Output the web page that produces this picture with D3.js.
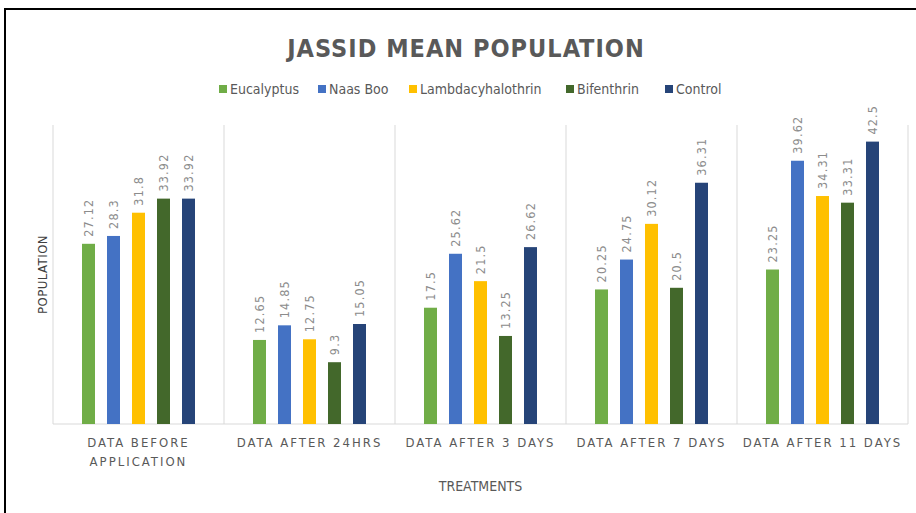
<!DOCTYPE html>
<html>
<head>
<meta charset="utf-8">
<script src="https://cdn.jsdelivr.net/npm/d3@7"></script>
<style>
  body { margin: 0; background: #fff; }
  text { font-family: "Liberation Sans Narrow", "DejaVu Sans Condensed", "Liberation Sans", sans-serif; }
</style>
</head>
<body>
<svg id="chart" width="916" height="513"></svg>
<script>
// data
var treatments = ['DATA BEFORE APPLICATION', 'DATA AFTER 24HRS', 'DATA AFTER 3 DAYS', 'DATA AFTER 7 DAYS', 'DATA AFTER 11 DAYS'];
var tickLines = [['DATA BEFORE', 'APPLICATION'], ['DATA AFTER 24HRS'], ['DATA AFTER 3 DAYS'], ['DATA AFTER 7 DAYS'], ['DATA AFTER 11 DAYS']];
var seriesNames = ['Eucalyptus', 'Naas Boo', 'Lambdacyhalothrin', 'Bifenthrin', 'Control'];
var eucalyptus = [27.12, 12.65, 17.5, 20.25, 23.25];
var naasBoo = [28.3, 14.85, 25.62, 24.75, 39.62];
var lambda = [31.8, 12.75, 21.5, 30.12, 34.31];
var bifenthrin = [33.92, 9.3, 13.25, 20.5, 33.31];
var control = [33.92, 15.05, 26.62, 36.31, 42.5];
var colors = ['#70AD47', '#4472C4', '#FFC000', '#43682B', '#264478'];

var seriesVals = [eucalyptus, naasBoo, lambda, bifenthrin, control];

var svg = d3.select('#chart');

// chart frame
svg.append('rect')
    .attr('x', 5).attr('y', 9)
    .attr('width', 930).attr('height', 530)
    .attr('fill', '#fff')
    .attr('stroke', '#000')
    .attr('stroke-width', 2);

var plotLeft = 53, plotRight = 908, plotTop = 125, plotBottom = 424;

var x0 = d3.scaleBand()
    .domain(treatments)
    .range([plotLeft, plotRight]);

var x1 = d3.scaleBand()
    .domain(seriesNames)
    .range([0, x0.bandwidth()])
    .paddingInner(0.48)
    .paddingOuter(1.16);

var y = d3.scaleLinear()
    .domain([0, 45])
    .range([plotBottom, plotTop]);

// vertical separators between categories
var seps = treatments.map(function (t) { return x0(t); }).concat([plotRight]);
svg.append('g')
  .selectAll('line')
  .data(seps)
  .join('line')
    .attr('x1', function (d) { return d; })
    .attr('x2', function (d) { return d; })
    .attr('y1', plotTop)
    .attr('y2', plotBottom)
    .attr('stroke', '#d9d9d9')
    .attr('stroke-width', 1);

// baseline
svg.append('line')
    .attr('x1', plotLeft).attr('x2', plotRight)
    .attr('y1', y(0)).attr('y2', y(0))
    .attr('stroke', '#d9d9d9')
    .attr('stroke-width', 1);

// bars
var groups = svg.append('g')
  .selectAll('g')
  .data(treatments)
  .join('g')
    .attr('transform', function (t) { return 'translate(' + x0(t) + ',0)'; });

groups.selectAll('rect')
  .data(function (t, i) {
    return seriesNames.map(function (s, j) { return { s: s, v: seriesVals[j][i], c: colors[j] }; });
  })
  .join('rect')
    .attr('x', function (d) { return x1(d.s); })
    .attr('y', function (d) { return y(d.v); })
    .attr('width', x1.bandwidth())
    .attr('height', function (d) { return y(0) - y(d.v); })
    .attr('fill', function (d) { return d.c; });

// data labels (rotated)
groups.selectAll('text')
  .data(function (t, i) {
    return seriesNames.map(function (s, j) { return { s: s, v: seriesVals[j][i] }; });
  })
  .join('text')
    .attr('transform', function (d) {
      return 'translate(' + (x1(d.s) + x1.bandwidth() / 2 + 4.5) + ',' + (y(d.v) - 7) + ') rotate(-90)';
    })
    .attr('text-anchor', 'start')
    .attr('font-size', 12.5)
    .attr('letter-spacing', 1.2)
    .attr('fill', '#8c8c8c')
    .text(function (d) { return d.v; });

// category labels
var ticks = svg.append('g')
  .selectAll('text')
  .data(treatments)
  .join('text')
    .attr('x', function (t) { return x0(t) + x0.bandwidth() / 2; })
    .attr('y', 447)
    .attr('text-anchor', 'middle')
    .attr('font-size', 13)
    .attr('letter-spacing', 2.0)
    .attr('fill', '#595959');

ticks.selectAll('tspan')
  .data(function (t, i) { return tickLines[i]; })
  .join('tspan')
    .attr('x', function () { var t = this.parentNode.__data__; return x0(t) + x0.bandwidth() / 2; })
    .attr('dy', function (d, i) { return i === 0 ? 0 : 19; })
    .text(function (d) { return d; });

// title
svg.append('text')
    .attr('x', 466)
    .attr('y', 57)
    .attr('text-anchor', 'middle')
    .attr('font-size', 25)
    .attr('font-weight', 'bold')
    .attr('letter-spacing', 1.0)
    .attr('fill', '#595959')
    .text('JASSID MEAN POPULATION');

// legend
var legendX = [219, 318, 409, 566, 665];
var legend = svg.append('g')
  .selectAll('g')
  .data(seriesNames)
  .join('g')
    .attr('transform', function (d, i) { return 'translate(' + legendX[i] + ',89)'; });

legend.append('rect')
    .attr('x', 0).attr('y', -4)
    .attr('width', 8).attr('height', 8)
    .attr('fill', function (d, i) { return colors[i]; });

legend.append('text')
    .attr('x', 11)
    .attr('y', 5)
    .attr('font-size', 14)
    .attr('fill', '#595959')
    .text(function (d) { return d; });

// axis titles
svg.append('text')
    .attr('transform', 'translate(47,' + ((plotTop + plotBottom) / 2) + ') rotate(-90)')
    .attr('text-anchor', 'middle')
    .attr('font-size', 13)
    .attr('letter-spacing', 0.5)
    .attr('fill', '#404040')
    .text('POPULATION');

svg.append('text')
    .attr('x', (plotLeft + plotRight) / 2)
    .attr('y', 491)
    .attr('text-anchor', 'middle')
    .attr('font-size', 14)
    .attr('fill', '#595959')
    .text('TREATMENTS');
</script>
</body>
</html>
